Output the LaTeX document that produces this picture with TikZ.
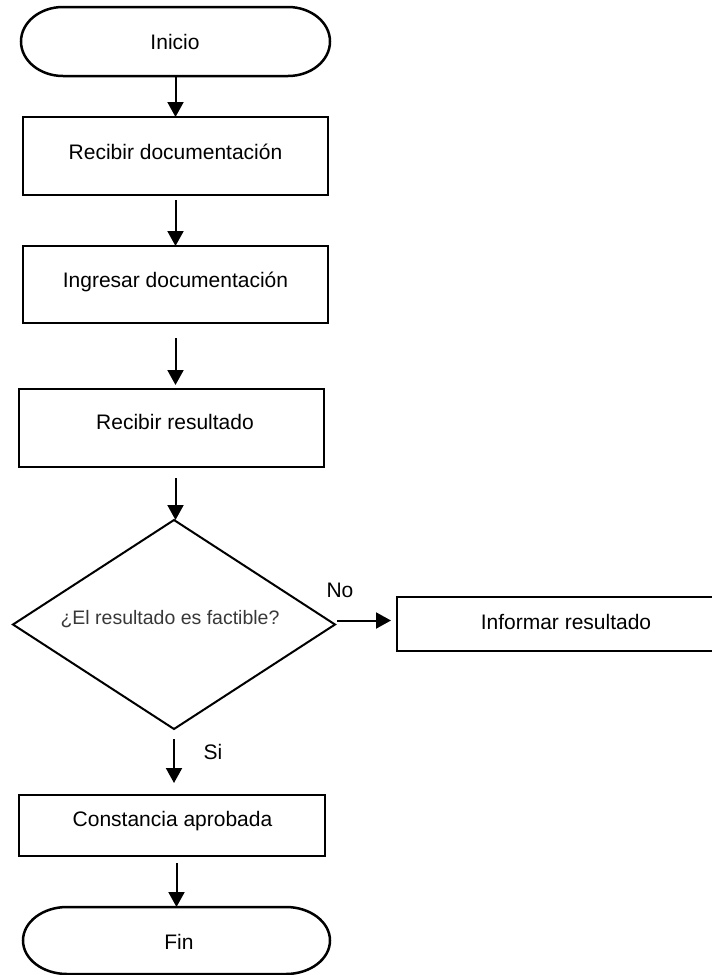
\documentclass[tikz,border=0pt]{standalone}
\usepackage{fontspec}
\setmainfont{Liberation Sans}
\usetikzlibrary{arrows.meta,shapes.geometric}
\begin{document}
\begin{tikzpicture}[x=1pt,y=1pt,
  procbox/.style={draw=black, line width=2.5pt, rectangle, inner sep=0pt, outer sep=0pt},
  termbox/.style={rectangle, inner sep=0pt, outer sep=0pt, minimum width=309pt, minimum height=69pt},
  decision/.style={draw=black, line width=2pt, diamond, inner sep=0pt, outer sep=0pt},
  txt/.style={inner sep=0pt, font=\fontsize{21}{25}\selectfont, text height=15pt, text depth=0pt},
  dtxt/.style={inner sep=0pt, font=\fontsize{19.5}{23}\selectfont, text=black!78, text height=14pt, text depth=0pt},
  conn/.style={line width=2pt, -{Triangle[length=15pt,width=16pt]}},
  termline/.style={line width=2.5pt}
]
\clip (0,0) rectangle (712,-975);
\fill[white] (0,0) rectangle (712,-975);

% Inicio
\node[termbox] (ini) at (175.5,-41.5) {};
\draw[termline] ([xshift=42pt]ini.north west) -- ([xshift=-42pt]ini.north east)
  arc[start angle=90, end angle=-90, x radius=42, y radius=34.5]
  -- ([xshift=42pt]ini.south west)
  arc[start angle=270, end angle=90, x radius=42, y radius=34.5] -- cycle;
\node[txt] (init) at (175,-41.5) {Inicio};

% Process boxes
\node[procbox, minimum width=305pt, minimum height=78pt] (b1) at (175.5,-156) {};
\node[txt] (b1t) at (175.5,-151.5) {Recibir documentación};
\node[procbox, minimum width=305pt, minimum height=77pt] (b2) at (175.5,-284.5) {};
\node[txt] (b2t) at (175.5,-280) {Ingresar documentación};
\node[procbox, minimum width=305pt, minimum height=78pt] (b3) at (171.5,-428) {};
\node[txt] (b3t) at (175,-422) {Recibir resultado};

% Decision
\node[decision, minimum width=322pt, minimum height=209pt] (dec) at (174,-624.5) {};
\node[dtxt] (dect) at (170,-617) {¿El resultado es factible?};

% Informar
\node[procbox, minimum width=343pt, minimum height=54pt] (inf) at (568.5,-624) {};
\node[txt] (inft) at (566,-622) {Informar resultado};

% Constancia
\node[procbox, minimum width=306pt, minimum height=61pt] (con) at (172,-825.5) {};
\node[txt] (cont) at (172.5,-818.5) {Constancia aprobada};

% Fin
\node[termbox, minimum height=67pt, minimum width=307pt] (fin) at (176.5,-940.5) {};
\draw[termline] ([xshift=44pt]fin.north west) -- ([xshift=-44pt]fin.north east)
  arc[start angle=90, end angle=-90, x radius=44, y radius=33.5]
  -- ([xshift=44pt]fin.south west)
  arc[start angle=270, end angle=90, x radius=44, y radius=33.5] -- cycle;
\node[txt] (fint) at (179,-942) {Fin};

% Connectors
\draw[conn] (ini.south) -- (b1.north);
\draw[conn, shorten <=5pt] (b1.south) -- (b2.north);
\draw[conn, shorten <=15pt, shorten >=4pt] (b2.south) -- (b2.south |- b3.north);
\draw[conn, shorten <=11pt] (b3.south -| b2.south) -- (b2.south |- dec.north);
\draw[conn, shorten <=10pt, shorten >=12pt] (dec.south) -- (dec.south |- con.north);
\draw[conn, shorten <=7pt] (fin.north |- con.south) -- (fin.north);
\draw[conn, shorten <=2pt, shorten >=6pt] ([yshift=4pt]dec.east) -- ([yshift=4pt]dec.east -| inf.west);

% Labels
\node[txt] (nolab) at (340,-589.5) {No};
\node[txt] (silab) at (213,-752) {Si};
\end{tikzpicture}
\end{document}
